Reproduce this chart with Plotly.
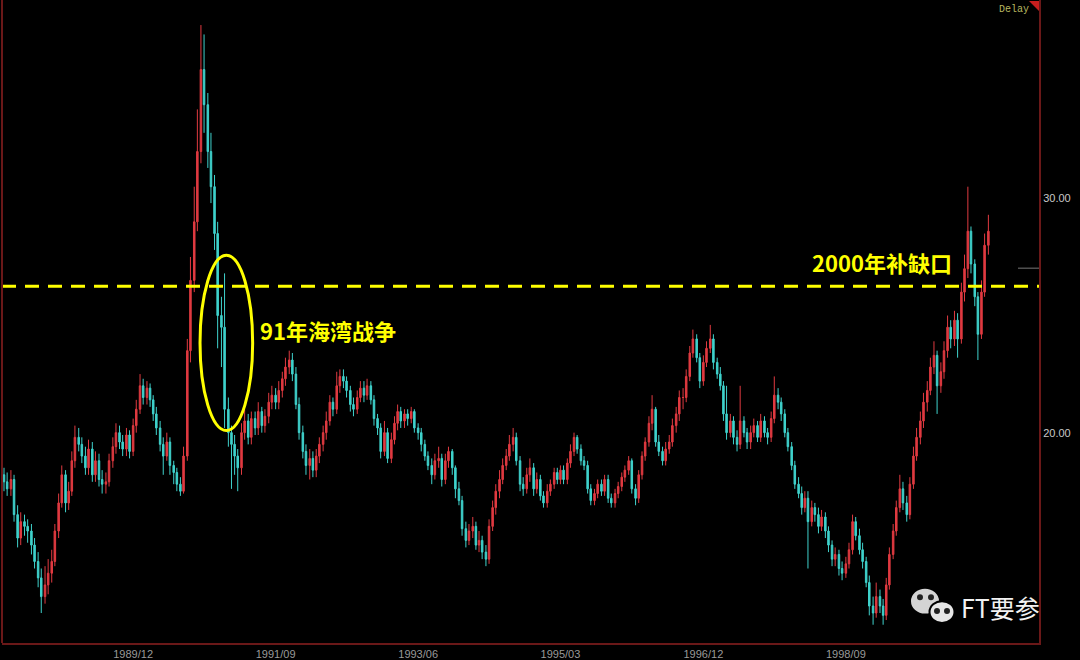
import pandas as pd
import plotly.graph_objects as go

# semi-monthly candles, 1988/05 .. 2000/06
dates = pd.date_range("1988-05-01", periods=291, freq="SMS")

open_ = [
    18.2, 17.9, 17.6, 18.0, 16.5, 15.5, 16.2, 16.0, 15.8, 15.2,
    14.5, 13.8, 13.0, 13.5, 14.0, 14.5, 15.8, 17.0, 18.2, 17.0,
    17.5, 18.8, 19.8, 19.5, 19.0, 18.5, 19.3, 18.2, 18.8, 18.0,
    17.8, 17.9, 18.8, 19.4, 20.0, 19.6, 19.3, 19.9, 19.2, 20.3,
    21.0, 22.0, 21.5, 21.9, 21.4, 20.8, 20.2, 19.5, 19.0, 19.6,
    18.6, 18.3, 17.8, 17.5, 19.0, 23.5, 26.5, 29.0, 32.0, 35.5,
    34.0, 32.0, 30.5, 28.5, 25.0, 24.5, 21.0, 20.0, 19.5, 19.0,
    18.5, 20.0, 20.5, 19.8, 20.6, 20.2, 20.9, 20.3, 20.7, 21.3,
    21.6, 21.3, 21.8, 22.3, 22.8, 23.1, 22.5, 21.2, 20.0, 19.2,
    18.6, 18.9, 18.4, 19.0, 19.5, 20.0, 20.5, 21.3, 21.0,
    22.0, 22.4, 22.2, 21.8, 21.2, 21.0, 21.5, 21.9, 21.6, 22.0, 21.4,
    20.6, 20.2, 19.2, 20.0, 18.9, 19.7, 20.4, 20.9, 20.5, 20.8,
    20.6, 20.9, 20.2, 20.0, 19.5, 19.0, 18.6, 18.2, 18.8, 18.9,
    18.0, 18.8, 19.2, 18.5, 17.6, 17.1, 15.9, 15.4, 15.8, 16.0,
    15.2, 15.4, 14.9, 14.6, 16.0, 16.8, 17.5, 18.0, 18.6, 19.0,
    19.5, 19.8, 18.8, 17.8, 17.6, 18.2, 18.5, 17.6, 18.0, 17.3,
    17.0, 17.5, 17.8, 18.3, 18.0, 18.4, 18.0, 18.7, 19.2, 19.8,
    19.3, 18.8, 18.6, 17.6, 17.1, 17.4, 17.8, 17.5, 18.0, 17.2,
    17.0, 17.4, 17.7, 18.1, 18.4, 18.8, 17.6, 17.2, 18.2, 19.0,
    19.6, 20.4, 21.0, 19.6, 19.2, 18.8, 19.3, 19.6, 20.3,
    20.8, 21.5, 21.5, 22.4, 23.4, 24.0, 23.2, 22.2, 23.0, 23.6, 24.0,
    23.0, 22.5, 22.0, 20.8, 20.0, 20.5, 19.8, 19.5, 20.5, 20.0,
    19.6, 20.0, 20.3, 19.8, 20.5, 20.0, 19.8, 20.6, 21.6, 21.3,
    20.8, 20.0, 19.4, 18.6, 17.8, 17.4, 16.8, 17.2, 16.2, 16.8,
    16.5, 16.0, 16.4, 15.8, 15.2, 14.6, 14.8, 14.2, 14.0, 14.4,
    15.0, 16.2, 15.6, 15.0, 14.5, 13.6, 12.6, 12.3, 13.0, 12.6,
    12.2, 13.5, 14.8, 15.8, 16.8, 17.6, 17.0, 16.5, 17.8, 19.0,
    19.8, 20.5, 21.3, 21.8, 22.8, 23.3, 22.0, 22.6, 23.5, 24.5,
    24.0, 24.8, 24.0, 26.0, 27.0, 28.6, 27.2, 25.8, 24.2, 26.0, 28.0,
]

high = [
    18.5, 18.3, 18.4, 18.2, 16.9, 16.6, 16.5, 16.3, 16.1, 15.5,
    14.9, 14.2, 14.3, 14.6, 15.0, 16.1, 17.4, 18.6, 18.4, 17.9,
    19.2, 20.3, 20.2, 19.8, 19.4, 19.7, 19.6, 19.2, 19.1, 18.4,
    18.3, 19.1, 19.8, 20.4, 20.3, 19.9, 20.2, 20.1, 20.6, 21.4,
    22.5, 22.3, 22.2, 22.1, 21.6, 21.1, 20.5, 19.8, 20.0, 19.8,
    18.8, 18.5, 18.1, 19.4, 24.0, 27.5, 30.5, 33.8, 37.4, 37.0,
    34.5, 32.8, 31.0, 29.0, 25.8, 26.8, 21.5, 20.3, 19.9, 19.3,
    20.4, 21.0, 20.8, 20.9, 20.9, 21.3, 21.1, 21.0, 21.7, 22.0,
    21.9, 22.2, 22.6, 23.2, 23.5, 23.4, 22.8, 21.5, 20.3, 19.5,
    19.3, 19.2, 19.3, 19.8, 20.3, 20.9, 21.6, 21.5, 22.6,
    22.7, 22.7, 22.4, 22.0, 21.5, 21.8, 22.2, 22.2, 22.3, 22.2, 21.6,
    20.8, 20.4, 20.5, 20.2, 20.0, 20.7, 21.2, 21.1, 21.0, 21.0,
    21.1, 21.0, 20.4, 20.2, 19.7, 19.2, 18.9, 19.1, 19.4, 19.1,
    19.1, 19.4, 19.3, 18.6, 17.9, 17.3, 16.2, 16.1, 16.4, 16.2,
    15.8, 15.6, 15.2, 16.3, 17.1, 17.8, 18.4, 18.9, 19.3, 19.9,
    20.2, 20.0, 19.0, 18.1, 18.5, 18.9, 18.7, 18.3, 18.2, 17.5,
    17.8, 18.0, 18.5, 18.5, 18.6, 18.6, 18.9, 19.5, 20.0, 19.9,
    19.5, 19.0, 18.8, 17.8, 17.6, 18.0, 18.0, 18.2, 18.2, 17.4,
    17.6, 17.9, 18.3, 18.6, 19.0, 18.9, 17.8, 18.4, 19.2, 19.8,
    20.7, 21.6, 21.1, 19.9, 19.4, 19.6, 19.9, 20.6, 21.1,
    21.8, 21.9, 22.7, 23.7, 24.4, 24.2, 23.4, 23.3, 23.9, 24.6, 24.2,
    23.2, 22.8, 22.2, 22.0, 20.8, 20.7, 20.1, 22.0, 20.7, 20.2,
    20.3, 20.6, 20.5, 20.8, 20.7, 20.2, 20.9, 22.4, 21.9, 21.5,
    21.0, 20.2, 19.6, 18.8, 18.1, 17.7, 17.5, 17.5, 17.1, 17.0,
    16.8, 16.7, 16.6, 16.0, 15.4, 15.1, 15.0, 14.5, 14.7, 15.3,
    16.5, 16.4, 15.9, 15.3, 14.7, 13.9, 13.0, 13.6, 13.3, 12.9,
    13.8, 15.1, 16.1, 17.1, 18.2, 17.9, 17.3, 18.1, 19.4, 20.2,
    20.9, 21.7, 22.2, 23.2, 23.9, 23.5, 23.0, 23.9, 25.0, 24.8,
    25.2, 25.1, 26.4, 27.6, 30.5, 28.8, 27.4, 26.0, 26.5, 28.5, 29.3,
]

low = [
    17.5, 17.3, 17.3, 16.2, 15.1, 15.2, 15.6, 15.3, 14.8, 14.2,
    13.4, 12.3, 12.7, 13.1, 13.6, 14.3, 15.5, 16.8, 16.6, 16.7,
    17.3, 18.5, 19.2, 18.7, 18.2, 18.2, 17.9, 17.9, 17.7, 17.4,
    17.4, 17.7, 18.5, 19.1, 19.3, 19.0, 19.0, 18.9, 19.0, 20.0,
    20.8, 21.2, 21.2, 21.1, 20.5, 19.9, 19.2, 18.2, 18.8, 18.2,
    17.8, 17.5, 17.3, 17.4, 18.8, 23.0, 26.0, 28.6, 31.5, 32.8,
    31.3, 29.8, 27.8, 23.6, 22.8, 20.2, 19.4, 17.6, 18.2, 17.5,
    18.2, 19.7, 19.5, 19.5, 19.9, 19.9, 20.0, 20.0, 20.4, 21.0,
    21.0, 21.0, 21.5, 22.0, 22.5, 22.2, 21.0, 19.7, 18.9, 18.2,
    18.0, 18.1, 18.1, 18.7, 19.2, 19.7, 20.3, 20.7, 20.8,
    21.7, 21.9, 21.5, 20.9, 20.7, 20.8, 21.3, 21.3, 21.4, 21.2, 20.3,
    19.9, 18.9, 19.0, 18.7, 18.7, 19.5, 20.1, 20.2, 20.2, 20.3,
    20.4, 20.0, 19.7, 19.2, 18.8, 18.4, 17.8, 18.0, 18.5, 17.7,
    17.8, 18.5, 18.2, 17.2, 16.9, 15.6, 15.1, 15.2, 15.5, 15.0,
    14.9, 14.6, 14.3, 14.4, 15.8, 16.5, 17.2, 17.8, 18.4, 18.8,
    19.2, 18.6, 17.5, 17.3, 17.4, 17.9, 17.3, 17.4, 17.1, 16.8,
    16.8, 17.3, 17.6, 17.8, 17.8, 17.8, 17.8, 18.5, 19.0, 19.1,
    18.6, 18.4, 17.4, 16.9, 16.9, 17.2, 17.3, 17.3, 17.0, 16.8,
    16.8, 17.2, 17.5, 17.9, 18.2, 17.4, 16.9, 17.0, 18.0, 18.8,
    19.4, 20.1, 19.4, 19.0, 18.6, 18.6, 19.1, 19.4, 20.0,
    20.5, 21.0, 21.3, 22.2, 23.2, 23.0, 21.9, 22.0, 22.8, 23.4, 22.7,
    22.3, 21.8, 20.5, 19.7, 19.8, 19.5, 19.2, 19.3, 19.8, 19.3,
    19.3, 19.8, 19.6, 19.6, 19.8, 19.5, 19.6, 20.4, 21.0, 20.5,
    19.8, 19.2, 18.4, 17.6, 17.2, 16.5, 16.6, 14.2, 16.0, 16.2,
    15.7, 15.8, 15.5, 14.9, 14.3, 14.3, 13.9, 13.7, 13.8, 14.2,
    14.8, 15.4, 14.8, 14.2, 13.4, 12.2, 11.8, 12.1, 12.3, 11.8,
    12.0, 13.3, 14.6, 15.6, 16.6, 16.7, 16.2, 16.3, 17.6, 18.8,
    19.5, 20.2, 20.9, 21.6, 22.5, 20.8, 21.7, 22.3, 23.2, 23.6,
    23.7, 23.2, 23.8, 25.6, 26.6, 26.8, 25.4, 23.1, 24.0, 25.8, 27.6,
]

close = [
    17.9, 17.6, 18.0, 16.5, 15.5, 16.2, 16.0, 15.8, 15.2, 14.5,
    13.8, 13.0, 13.5, 14.0, 14.5, 15.8, 17.0, 18.2, 17.0, 17.5,
    18.8, 19.8, 19.5, 19.0, 18.5, 19.3, 18.2, 18.8, 18.0, 17.8,
    17.9, 18.8, 19.4, 20.0, 19.6, 19.3, 19.9, 19.2, 20.3, 21.0,
    22.0, 21.5, 21.9, 21.4, 20.8, 20.2, 19.5, 19.0, 19.6, 18.6,
    18.3, 17.8, 17.5, 19.0, 23.5, 26.5, 29.0, 32.0, 35.5, 34.0,
    32.0, 30.5, 28.5, 25.0, 24.5, 21.0, 20.0, 19.5, 19.0, 18.5,
    20.0, 20.5, 19.8, 20.6, 20.2, 20.9, 20.3, 20.7, 21.3, 21.6,
    21.3, 21.8, 22.3, 22.8, 23.1, 22.5, 21.2, 20.0, 19.2, 18.6,
    18.9, 18.4, 19.0, 19.5, 20.0, 20.5, 21.3, 21.0, 22.0,
    22.4, 22.2, 21.8, 21.2, 21.0, 21.5, 21.9, 21.6, 22.0, 21.4, 20.6,
    20.2, 19.2, 20.0, 18.9, 19.7, 20.4, 20.9, 20.5, 20.8, 20.6,
    20.9, 20.2, 20.0, 19.5, 19.0, 18.6, 18.2, 18.8, 18.9, 18.0,
    18.8, 19.2, 18.5, 17.6, 17.1, 15.9, 15.4, 15.8, 16.0, 15.2,
    15.4, 14.9, 14.6, 16.0, 16.8, 17.5, 18.0, 18.6, 19.0, 19.5,
    19.8, 18.8, 17.8, 17.6, 18.2, 18.5, 17.6, 18.0, 17.3, 17.0,
    17.5, 17.8, 18.3, 18.0, 18.4, 18.0, 18.7, 19.2, 19.8, 19.3,
    18.8, 18.6, 17.6, 17.1, 17.4, 17.8, 17.5, 18.0, 17.2, 17.0,
    17.4, 17.7, 18.1, 18.4, 18.8, 17.6, 17.2, 18.2, 19.0, 19.6,
    20.4, 21.0, 19.6, 19.2, 18.8, 19.3, 19.6, 20.3, 20.8,
    21.5, 21.5, 22.4, 23.4, 24.0, 23.2, 22.2, 23.0, 23.6, 24.0, 23.0,
    22.5, 22.0, 20.8, 20.0, 20.5, 19.8, 19.5, 20.5, 20.0, 19.6,
    20.0, 20.3, 19.8, 20.5, 20.0, 19.8, 20.6, 21.6, 21.3, 20.8,
    20.0, 19.4, 18.6, 17.8, 17.4, 16.8, 17.2, 16.2, 16.8, 16.5,
    16.0, 16.4, 15.8, 15.2, 14.6, 14.8, 14.2, 14.0, 14.4, 15.0,
    16.2, 15.6, 15.0, 14.5, 13.6, 12.6, 12.3, 13.0, 12.6, 12.2,
    13.5, 14.8, 15.8, 16.8, 17.6, 17.0, 16.5, 17.8, 19.0, 19.8,
    20.5, 21.3, 21.8, 22.8, 23.3, 22.0, 22.6, 23.5, 24.5, 24.0,
    24.8, 24.0, 26.0, 27.0, 28.6, 27.2, 25.8, 24.2, 26.0, 28.0, 28.6,
]

tick_dates = ["1989-12-01", "1991-09-01", "1993-06-01",
              "1995-03-01", "1996-12-01", "1998-09-01"]
gap_level = 26.25   # the dashed "gap" line

RED = "#e03a40"
CYAN = "#3fd2cc"
YELLOW = "#ffff00"
BORDER = "#6a1818"


def px(x, y):
    # pixel position -> paper coords (plot area is x 2..1039, y 0..645)
    return (x - 2) / 1037, (645 - y) / 645


fig = go.Figure()

fig.add_trace(go.Candlestick(
    x=dates, open=open_, high=high, low=low, close=close,
    increasing=dict(line=dict(color=RED, width=1), fillcolor=RED),
    decreasing=dict(line=dict(color=CYAN, width=1), fillcolor=CYAN),
    whiskerwidth=0,
    showlegend=False,
    hoverinfo="x+y"
))

shapes = [
    # dashed line
    dict(type="line", xref="paper", yref="y", x0=0, x1=1, y0=gap_level, y1=gap_level,
         line=dict(color=YELLOW, width=3, dash="14px,9px")),
    # gulf war ellipse
    dict(type="circle", xref="x", yref="y", x0="1990-09-27", x1="1991-05-21",
         y0=20.09, y1=27.57, line=dict(color=YELLOW, width=3)),
    # left border
    dict(type="line", xref="paper", yref="paper", x0=0, x1=0, y0=0, y1=1,
         line=dict(color=BORDER, width=2)),
]

# last-price tick on the right edge
a, b = px(1018, 269)
shapes.append(dict(type="line", xref="paper", yref="paper", x0=a, x1=1, y0=b, y1=b,
                   line=dict(color="#777777", width=1)))

# red corner flag
x0, y0 = px(1029, 1)
x1, y1 = px(1039, 11)
shapes.append(dict(type="path", xref="paper", yref="paper",
                   path=f"M {x0} {y0} L 1 {y0} L 1 {y1} Z",
                   fillcolor="#c81e1e", line=dict(width=0)))

# wechat logo
def bubble(cx, cy, rx, ry, fill, outline):
    a0, b0 = px(cx - rx, cy + ry)
    a1, b1 = px(cx + rx, cy - ry)
    return dict(type="circle", xref="paper", yref="paper", x0=a0, x1=a1, y0=b0, y1=b1,
                fillcolor=fill, line=dict(color=outline, width=2))

shapes.append(bubble(925, 603, 13, 11.5, "#d4d4d4", "#d4d4d4"))
shapes.append(bubble(942, 614, 12.5, 11, "#e6e6e6", "#000000"))
for dx, dy in [(920, 599), (931, 599), (937, 613), (947, 613)]:
    shapes.append(bubble(dx, dy, 2, 2, "#222222", "#222222"))

annotations = []
tx, ty = px(258, 331)
annotations.append(dict(x=tx, y=ty, xref="paper", yref="paper", text="91年海湾战争",
                        showarrow=False, xanchor="left", yanchor="middle",
                        font=dict(family="Noto Sans CJK SC", size=22, color=YELLOW, weight="bold")))
tx, ty = px(810, 263)
annotations.append(dict(x=tx, y=ty, xref="paper", yref="paper", text="2000年补缺口",
                        showarrow=False, xanchor="left", yanchor="middle",
                        font=dict(family="Noto Sans CJK SC", size=22, color=YELLOW, weight="bold")))
tx, ty = px(997, 10)
annotations.append(dict(x=tx, y=ty, xref="paper", yref="paper", text="Delay",
                        showarrow=False, xanchor="left", yanchor="middle",
                        font=dict(family="Liberation Mono", size=10, color="#b8b860")))
tx, ty = px(959, 609)
annotations.append(dict(x=tx, y=ty, xref="paper", yref="paper", text="FT要参",
                        showarrow=False, xanchor="left", yanchor="middle",
                        font=dict(family="Noto Sans CJK SC", size=25, color="#f2f2f2")))

fig.update_layout(
    width=1080, height=660,
    paper_bgcolor="black", plot_bgcolor="black",
    margin=dict(l=2, r=41, t=0, b=15),
    showlegend=False,
    shapes=shapes,
    annotations=annotations,
    xaxis=dict(
        range=["1988-04-22", "2001-01-14"],
        rangeslider=dict(visible=False),
        tickvals=tick_dates, tickformat="%Y/%m",
        showgrid=False, zeroline=False, ticks="",
        showline=True, linecolor=BORDER, linewidth=2,
        tickfont=dict(family="Liberation Sans, Arial", size=11, color="#9a9a9a")
    ),
    yaxis=dict(
        side="right", range=[11.02, 38.47],
        tickvals=[20, 30], tickformat=".2f",
        showgrid=False, zeroline=False, ticks="",
        showline=True, linecolor=BORDER, linewidth=2,
        tickfont=dict(family="Liberation Sans, Arial", size=11, color="#c8c8c8")
    ),
)

# page body has a default margin; drop it so the figure sits at 0,0
fig.write_html("out.html",
               config={"displayModeBar": False},
               post_script="document.body.style.margin='0';document.body.style.padding='0';"
                           "document.body.style.background='black';")
